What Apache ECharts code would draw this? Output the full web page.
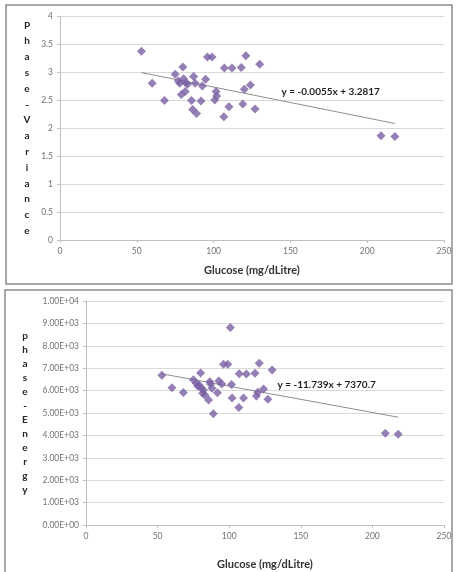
<!DOCTYPE html>
<html>
<head>
<meta charset="utf-8">
<script src="https://cdn.jsdelivr.net/npm/echarts@6/dist/echarts.min.js"></script>
<style>
  html, body { margin: 0; padding: 0; background: #fff; }
  #chart { width: 457px; height: 572px; }
</style>
</head>
<body>
<div id="chart"></div>
<script>
// glucose (mg/dLitre) per subject, shared by both panels
const glucose = [53, 60, 68, 75, 80, 77, 78, 80.5, 79, 81.5, 82, 83, 85.6, 86.4, 87, 88, 88.9, 91.8, 92.7, 94.8,
  96, 99, 100.8, 101.6, 102, 106.7, 107, 110, 112, 118, 119, 120, 121, 124, 127, 130, 209, 218]
const phaseVariance = [3.37, 2.80, 2.49, 2.96, 3.09, 2.84, 2.80, 2.88, 2.60, 2.65, 2.81, 2.78, 2.49, 2.33, 2.92, 2.80, 2.26, 2.48, 2.75, 2.87,
  3.27, 3.27, 2.50, 2.65, 2.57, 2.20, 3.07, 2.38, 3.07, 3.08, 2.43, 2.69, 3.29, 2.77, 2.34, 3.14, 1.86, 1.85]
const phaseEnergy = [6690, 6130, 5920, 6480, 6790, 6330, 6200, 6100, 6250, 5880, 6030, 5800, 5580, 6400, 6300, 6100, 4970, 5900, 6430, 6300,
  7180, 7180, 8820, 6270, 5670, 5250, 6750, 5670, 6740, 6770, 5760, 5930, 7220, 6070, 5610, 6920, 4100, 4050]

// linear trendline end points and their equation labels
const varianceTrend = [[53, 2.99], [218, 2.08]]
const energyTrend = [[53, 6748], [218, 4812]]
const varianceEq = 'y = -0.0055x + 3.2817'
const energyEq = 'y = -11.739x + 7370.7'

const xRange = [0, 250, 50]
const varianceRange = [0, 4, 0.5]
const energyRange = [0, 10000, 1000]

const FONT = 'Lato, "Liberation Sans", sans-serif'
const purple = '#7a60a4'

const toSci = v => v.toExponential(2).toUpperCase().replace(/E([+-])(\d)$/, 'E$10$2')

const vertical = s => s.split('').join('\n')

const xAxisCfg = (gridIndex, nameGap) => ({
  gridIndex,
  type: 'value',
  min: xRange[0], max: xRange[1], interval: xRange[2],
  name: 'Glucose (mg/dLitre)',
  nameLocation: 'middle',
  nameGap,
  nameTextStyle: { fontFamily: FONT, fontWeight: 'bold', fontSize: 11, color: '#333', verticalAlign: 'middle' },
  axisLine: { show: true, lineStyle: { color: '#bfbfbf' } },
  axisTick: { show: true, length: 3, lineStyle: { color: '#bfbfbf' } },
  axisLabel: { fontFamily: FONT, fontSize: 8.5, color: '#737373', margin: 7 },
  splitLine: { show: false }
})

const yAxisCfg = (gridIndex, range, name, nameGap, lineHeight, fmt) => ({
  gridIndex,
  type: 'value',
  min: range[0], max: range[1], interval: range[2],
  name: vertical(name),
  nameLocation: 'middle',
  nameRotate: 0,
  nameGap,
  nameTextStyle: {
    fontFamily: FONT, fontWeight: 'bold', fontSize: 10, color: '#262626',
    lineHeight, align: 'center', verticalAlign: 'middle'
  },
  axisLine: { show: true, lineStyle: { color: '#bfbfbf' } },
  axisTick: { show: true, length: 3, lineStyle: { color: '#bfbfbf' } },
  axisLabel: { fontFamily: FONT, fontSize: 8.5, color: '#737373', margin: 7, formatter: fmt },
  splitLine: { show: true, lineStyle: { color: '#d9d9d9', width: 1 } }
})

const eqLabel = (coord, text) => ({
  silent: true,
  symbol: 'circle',
  symbolSize: 1,
  itemStyle: { color: 'rgba(0,0,0,0)' },
  label: {
    show: true, position: 'right', distance: 0, formatter: text,
    fontFamily: FONT, fontWeight: 'bold', fontSize: 10, color: '#1f1f1f'
  },
  data: [{ coord }]
})

const chart = echarts.init(document.getElementById('chart'), null, { renderer: 'canvas' })

const option = {
  animation: false,
  backgroundColor: '#fff',
  graphic: [
    { type: 'rect', shape: { x: 6, y: 5, width: 446, height: 279 }, style: { fill: 'none', stroke: '#8c8c8c', lineWidth: 1.5 }, z: 0 },
    { type: 'rect', shape: { x: 5, y: 290, width: 447, height: 290 }, style: { fill: 'none', stroke: '#8c8c8c', lineWidth: 1.5 }, z: 0 }
  ],
  grid: [
    { left: 60, top: 16, width: 384, height: 224 },
    { left: 86, top: 301, width: 358, height: 224 }
  ],
  xAxis: [xAxisCfg(0, 30), xAxisCfg(1, 39)],
  yAxis: [
    yAxisCfg(0, varianceRange, 'Phase-Variance', 33, 15.8),
    yAxisCfg(1, energyRange, 'phase-Energy', 61, 14, toSci)
  ],
  series: [
    {
      type: 'scatter', xAxisIndex: 0, yAxisIndex: 0,
      symbol: 'diamond', symbolSize: 9,
      itemStyle: { color: purple },
      data: glucose.map((g, i) => [g, phaseVariance[i]]),
      z: 3
    },
    {
      type: 'line', xAxisIndex: 0, yAxisIndex: 0,
      data: varianceTrend, showSymbol: false,
      lineStyle: { color: '#8f8f8f', width: 1 },
      markPoint: eqLabel([143.9, 2.64], varianceEq),
      z: 2
    },
    {
      type: 'scatter', xAxisIndex: 1, yAxisIndex: 1,
      symbol: 'diamond', symbolSize: 9,
      itemStyle: { color: purple },
      data: glucose.map((g, i) => [g, phaseEnergy[i]]),
      z: 3
    },
    {
      type: 'line', xAxisIndex: 1, yAxisIndex: 1,
      data: energyTrend, showSymbol: false,
      lineStyle: { color: '#8f8f8f', width: 1 },
      markPoint: eqLabel([133.4, 6281], energyEq),
      z: 2
    }
  ]
}

chart.setOption(option)
window.addEventListener('resize', () => chart.resize())
</script>
</body>
</html>
